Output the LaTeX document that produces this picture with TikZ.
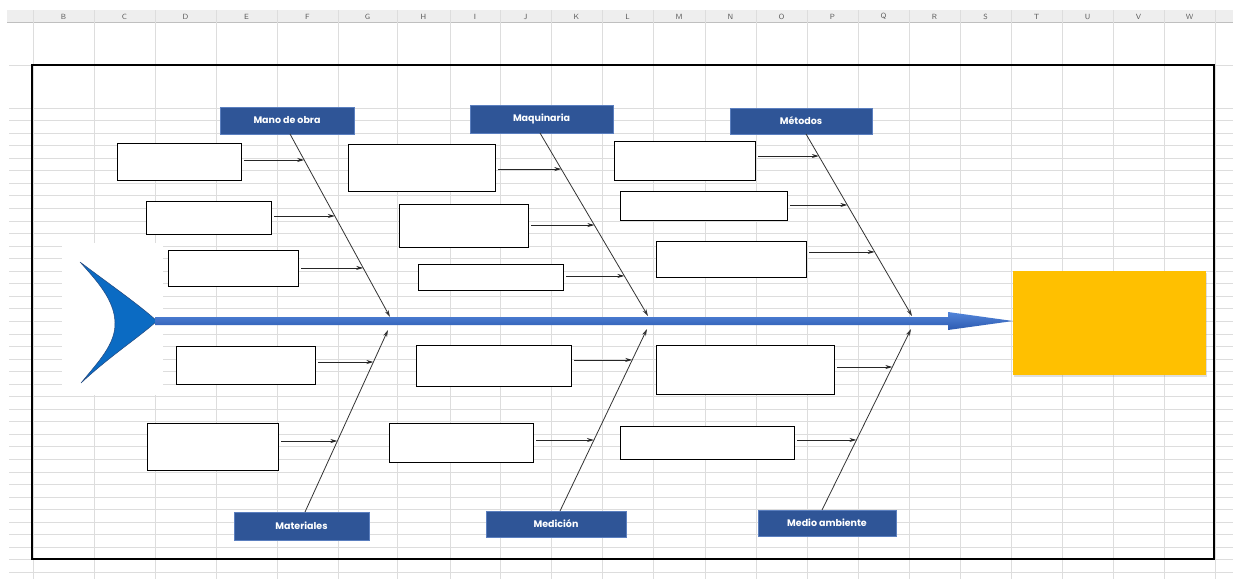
\documentclass[tikz,border=0pt]{standalone}
\usepackage{fontspec}
\setmainfont{Lato}
\newfontfamily\catfont{Poppins}
\usetikzlibrary{arrows.meta,calc,shadows}
\definecolor{gridc}{HTML}{DDDDDD}
\definecolor{hdr}{HTML}{EEEEEE}
\definecolor{catblue}{HTML}{2F5597}
\definecolor{catedge}{HTML}{5B7FBF}
\definecolor{spineA}{HTML}{5285DA}
\definecolor{spineB}{HTML}{2D5AB0}
\definecolor{tailc}{HTML}{0B6BC3}
\definecolor{tailedge}{HTML}{24487E}
\definecolor{gold}{HTML}{FFC000}
\begin{document}
\begin{tikzpicture}[x=1pt,y=-1pt,
  cat/.style={rectangle,fill=catblue,draw=catedge,line width=0.6pt,text=white,
    font=\catfont\fontsize{9.5}{11}\selectfont\bfseries,inner sep=0pt},
  cbox/.style={rectangle,draw=black,fill=white,line width=0.9pt,inner sep=0pt},
  bone/.style={draw=black!80,line width=0.8pt,-{Stealth[length=7pt,width=4pt]}},
  twig/.style={draw=black!85,line width=0.8pt,shorten <=3pt,-{Stealth[length=7pt,width=4pt]}},
  colhead/.style={font=\sffamily\fontsize{7.5}{8}\selectfont,text=black!65,inner sep=0pt}]
\useasboundingbox (0,0) rectangle (1233,579);
\fill[white] (0,0) rectangle (1233,579);
% spreadsheet header
\fill[hdr] (7,10) rectangle (1233,22);
\draw[black!25,line width=0.6pt] (7,22) -- (1233,22);
% grid
\foreach \x in {33,94,155,216,277,338,397,450,500,551,602,653,705,756,807,858,909,960,1011,1062,1113,1164,1215}
  \draw[gridc,line width=0.8pt] (\x,10) -- (\x,579);
\draw[gridc,line width=0.8pt] (9,65) -- (1233,65);
\foreach \k in {0,...,37}
  \draw[gridc,line width=0.8pt] (9,{108+12.55*\k}) -- (1233,{108+12.55*\k});
\foreach \l/\x in {B/63.5,C/124.5,D/185.5,E/246.5,F/307.5,G/367.5,H/423.5,I/475,J/525.5,K/576.5,L/627.5,M/679,N/730.5,O/781.5,P/832.5,Q/883.5,R/934.5,S/985.5,T/1036.5,U/1087.5,V/1138.5,W/1189.5}
  \node[colhead] (h\l) at (\x,16.5) {\l};
% frame
\draw[black,line width=1.8pt] (32,65) rectangle (1214,559);
% fish tail
\fill[white] (62,243) rectangle (163,395);
\filldraw[fill=tailc,draw=tailedge,line width=0.5pt]
  (80,262) .. controls (112,286) and (138,304) .. (157,321)
  .. controls (138,338) and (110,356) .. (81,383)
  .. controls (98,362) and (116,344) .. (115,322)
  .. controls (114,300) and (98,282) .. (80,262) -- cycle;
% effect box
\node[rectangle,fill=gold,minimum width=193,minimum height=104,inner sep=0pt,
  drop shadow={opacity=0.25,shadow xshift=1pt,shadow yshift=-1.5pt}] (effect) at (1109.5,323) {};
% spine
\shade[top color=spineA,bottom color=spineB]
  (155,317) -- (948,317) -- (948,312) -- (1013,321) -- (948,330) -- (948,325) -- (155,325) -- cycle;
% category labels
\node[cat,minimum width=134,minimum height=27] (lA) at (287,120.5) {Mano de obra};
\node[cat,minimum width=143,minimum height=28] (lC) at (541.5,119) {Maquinaria};
\node[cat,minimum width=142,minimum height=26] (lE) at (801,121) {Métodos};
\node[cat,minimum width=135,minimum height=28] (lB) at (301.5,526) {Materiales};
\node[cat,minimum width=140,minimum height=26] (lD) at (556,524) {Medición};
\node[cat,minimum width=138,minimum height=26] (lF) at (827,523) {Medio ambiente};
% bones
\coordinate (sA) at (290,134);   \coordinate (eA) at (390,317);
\coordinate (sB) at (305,512);   \coordinate (eB) at (388,330);
\coordinate (sC) at (540,133);   \coordinate (eC) at (648,316);
\coordinate (sD) at (560,511);   \coordinate (eD) at (647,329);
\coordinate (sE) at (806,134);   \coordinate (eE) at (912,316);
\coordinate (sF) at (822,510);   \coordinate (eF) at (911,329);
\foreach \b in {A,B,C,D,E,F} \draw[bone] (s\b) -- (e\b);
% cause boxes
\node[cbox,minimum width=124,minimum height=37] (b1) at (179,161.5) {};
\node[cbox,minimum width=125,minimum height=33] (b2) at (208.5,217.5) {};
\node[cbox,minimum width=130,minimum height=36] (b3) at (233,268) {};
\node[cbox,minimum width=139,minimum height=38] (b4) at (245.5,365) {};
\node[cbox,minimum width=131,minimum height=47] (b5) at (212.5,446.5) {};
\node[cbox,minimum width=147,minimum height=47] (b6) at (421.5,167.5) {};
\node[cbox,minimum width=129,minimum height=43] (b7) at (463.5,225.5) {};
\node[cbox,minimum width=145,minimum height=26] (b8) at (490.5,277) {};
\node[cbox,minimum width=155,minimum height=41] (b9) at (493.5,365.5) {};
\node[cbox,minimum width=144,minimum height=39] (b10) at (461,442.5) {};
\node[cbox,minimum width=141,minimum height=39] (b11) at (684.5,160.5) {};
\node[cbox,minimum width=167,minimum height=29] (b12) at (703.5,205.5) {};
\node[cbox,minimum width=150,minimum height=36] (b13) at (731,259) {};
\node[cbox,minimum width=178,minimum height=49] (b14) at (745,369.5) {};
\node[cbox,minimum width=174,minimum height=33] (b15) at (707,442.5) {};
% points on the bones
\coordinate (t1) at ($(sA)!0.142!(eA)$);
\coordinate (t2) at ($(sA)!0.448!(eA)$);
\coordinate (t3) at ($(sA)!0.732!(eA)$);
\coordinate (t4) at ($(sB)!0.824!(eB)$);
\coordinate (t5) at ($(sB)!0.390!(eB)$);
\coordinate (t6) at ($(sC)!0.197!(eC)$);
\coordinate (t7) at ($(sC)!0.503!(eC)$);
\coordinate (t8) at ($(sC)!0.781!(eC)$);
\coordinate (t9) at ($(sD)!0.830!(eD)$);
\coordinate (t10) at ($(sD)!0.390!(eD)$);
\coordinate (t11) at ($(sE)!0.121!(eE)$);
\coordinate (t12) at ($(sE)!0.390!(eE)$);
\coordinate (t13) at ($(sE)!0.648!(eE)$);
\coordinate (t14) at ($(sF)!0.790!(eF)$);
\coordinate (t15) at ($(sF)!0.387!(eF)$);
\foreach \i in {1,...,15} \draw[twig] (t\i -| b\i.east) -- (t\i);
\end{tikzpicture}
\end{document}
